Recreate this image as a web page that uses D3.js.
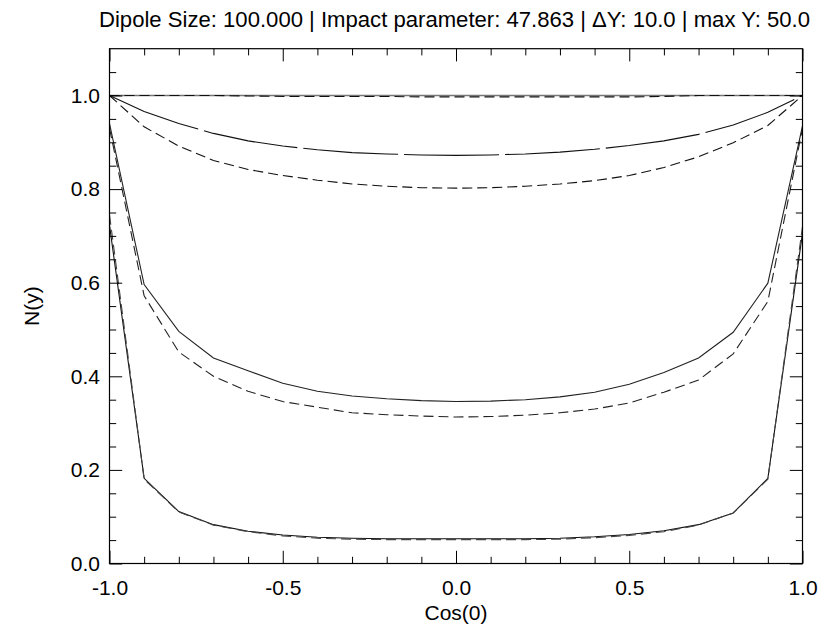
<!DOCTYPE html>
<html>
<head>
<meta charset="utf-8">
<script src="https://cdn.jsdelivr.net/npm/d3@7"></script>
<style>
  html, body { margin: 0; padding: 0; background: #fff; }
  svg text { font-family: "Liberation Sans", Arial, Helvetica, sans-serif; fill: #000; }
</style>
</head>
<body>
<svg id="chart" width="828" height="628"></svg>
<script>
// ---- data ----
const cosTheta = [-1.0, -0.9, -0.8, -0.7, -0.6, -0.5, -0.4, -0.3, -0.2, -0.1, 0.0,
                  0.1, 0.2, 0.3, 0.4, 0.5, 0.6, 0.7, 0.8, 0.9, 1.0];

const topSolid  = [1, 1, 1, 1, 1, 1, 1, 1, 1, 1, 1, 1, 1, 1, 1, 1, 1, 1, 1, 1, 1];
const topDashed = [1.000, 1.000, 1.000, 1.000, 0.999, 0.998, 0.998, 0.998, 0.998, 0.997, 0.997,
                   0.997, 0.997, 0.997, 0.997, 0.997, 0.998, 1.000, 1.000, 1.000, 1.000];

const upperLong   = [1.000, 0.966, 0.940, 0.919, 0.903, 0.892, 0.884, 0.878, 0.875, 0.873, 0.872,
                     0.873, 0.875, 0.879, 0.885, 0.893, 0.903, 0.917, 0.937, 0.964, 1.000];
const upperDashed = [1.000, 0.933, 0.892, 0.861, 0.842, 0.829, 0.819, 0.811, 0.806, 0.803, 0.802,
                     0.803, 0.806, 0.811, 0.818, 0.829, 0.846, 0.869, 0.899, 0.936, 1.000];

const midSolid  = [0.940, 0.596, 0.496, 0.439, 0.412, 0.385, 0.368, 0.358, 0.352, 0.348, 0.346,
                   0.347, 0.350, 0.356, 0.366, 0.383, 0.408, 0.439, 0.494, 0.599, 0.935];
const midDashed = [0.930, 0.572, 0.452, 0.400, 0.368, 0.346, 0.334, 0.322, 0.318, 0.315, 0.313,
                   0.314, 0.317, 0.322, 0.330, 0.343, 0.366, 0.392, 0.448, 0.560, 0.930];

const lowSolid  = [0.723, 0.182, 0.111, 0.083, 0.069, 0.061, 0.056, 0.054, 0.053, 0.053, 0.053,
                   0.053, 0.053, 0.054, 0.057, 0.062, 0.070, 0.083, 0.108, 0.182, 0.706];
const lowDashed = [0.745, 0.180, 0.110, 0.082, 0.068, 0.059, 0.054, 0.052, 0.051, 0.051, 0.051,
                   0.051, 0.051, 0.052, 0.055, 0.060, 0.068, 0.082, 0.108, 0.180, 0.720];

const xMajorTicks = [-1.0, -0.5, 0.0, 0.5, 1.0];
const xMinorTicks = [-0.9, -0.8, -0.7, -0.6, -0.4, -0.3, -0.2, -0.1, 0.1, 0.2, 0.3, 0.4, 0.6, 0.7, 0.8, 0.9];
const yMajorTicks = [0.0, 0.2, 0.4, 0.6, 0.8, 1.0];
const yMinorTicks = [0.05, 0.1, 0.15, 0.25, 0.3, 0.35, 0.45, 0.5, 0.55, 0.65, 0.7, 0.75, 0.85, 0.9, 0.95, 1.05];

const titleText = "Dipole Size: 100.000 | Impact parameter: 47.863 | \u0394Y: 10.0 | max Y: 50.0";
const xLabel = "Cos(0)";
const yLabel = "N(y)";

const seriesList = [
  { values: topSolid,    dash: null,     color: "#777", width: 1.6 },
  { values: topDashed,   dash: "10,5",   color: "#111", width: 1.1 },
  { values: upperLong,   dash: "95,6",   color: "#111", width: 1.1 },
  { values: upperDashed, dash: "10,5",   color: "#111", width: 1.1 },
  { values: midSolid,    dash: null,     color: "#222", width: 1.1 },
  { values: midDashed,   dash: "10,5",   color: "#222", width: 1.1 },
  { values: lowSolid,    dash: null,     color: "#111", width: 1.1 },
  { values: lowDashed,   dash: "10,5",   color: "#444", width: 1.1 }
];

// ---- layout ----
const svg = d3.select("#chart");
const L = 109.5, R = 802.5, T = 48.7, B = 563.5;
const x = d3.scaleLinear().domain([-1, 1]).range([L, R]);
const y = d3.scaleLinear().domain([0, 1.1]).range([B, T]);
const fs = 21;
const majLen = 12.7, minLen = 6.7;

svg.append("rect").attr("width", 828).attr("height", 628).attr("fill", "#fff");

// curves
const line = d3.line().x((d, i) => x(cosTheta[i])).y(d => y(d));
const curves = svg.append("g");
seriesList.forEach(s => {
  curves.append("path")
    .datum(s.values)
    .attr("d", line)
    .attr("fill", "none")
    .attr("stroke", s.color)
    .attr("stroke-width", s.width)
    .attr("stroke-dasharray", s.dash);
});

// axes
function styleAxis(g, showText) {
  g.select(".domain").remove();
  g.selectAll(".tick line").attr("stroke", "#000").attr("stroke-width", 1);
  if (!showText) g.selectAll(".tick text").remove();
  else g.selectAll(".tick text").attr("font-size", fs).attr("fill", "#000")
        .attr("font-family", "Liberation Sans, Arial, sans-serif");
}
const fmt = d => d.toFixed(1);

svg.append("g").attr("transform", `translate(0,${B})`)
  .call(d3.axisBottom(x).tickValues(xMajorTicks).tickSize(-majLen).tickPadding(17).tickFormat(fmt))
  .call(g => styleAxis(g, true))
  .call(g => g.selectAll(".tick text").attr("y", 17).attr("dy", "0.71em"));
svg.append("g").attr("transform", `translate(0,${B})`)
  .call(d3.axisBottom(x).tickValues(xMinorTicks).tickSize(-minLen))
  .call(g => styleAxis(g, false));
svg.append("g").attr("transform", `translate(0,${T})`)
  .call(d3.axisTop(x).tickValues(xMajorTicks).tickSize(-majLen))
  .call(g => styleAxis(g, false));
svg.append("g").attr("transform", `translate(0,${T})`)
  .call(d3.axisTop(x).tickValues(xMinorTicks).tickSize(-minLen))
  .call(g => styleAxis(g, false));

svg.append("g").attr("transform", `translate(${L},0)`)
  .call(d3.axisLeft(y).tickValues(yMajorTicks).tickSize(-majLen).tickPadding(9.5).tickFormat(fmt))
  .call(g => styleAxis(g, true));
svg.append("g").attr("transform", `translate(${L},0)`)
  .call(d3.axisLeft(y).tickValues(yMinorTicks).tickSize(-minLen))
  .call(g => styleAxis(g, false));
svg.append("g").attr("transform", `translate(${R},0)`)
  .call(d3.axisRight(y).tickValues(yMajorTicks).tickSize(-majLen))
  .call(g => styleAxis(g, false));
svg.append("g").attr("transform", `translate(${R},0)`)
  .call(d3.axisRight(y).tickValues(yMinorTicks).tickSize(-minLen))
  .call(g => styleAxis(g, false));

// frame
svg.append("rect")
  .attr("x", L).attr("y", T).attr("width", R - L).attr("height", B - T)
  .attr("fill", "none").attr("stroke", "#000").attr("stroke-width", 1.2);

// title
svg.append("text")
  .attr("x", 99).attr("y", 26.5)
  .attr("font-size", 21.5)
  .attr("textLength", 711)
  .attr("lengthAdjust", "spacingAndGlyphs")
  .text(titleText);

// axis titles
svg.append("text")
  .attr("x", (L + R) / 2).attr("y", 620)
  .attr("text-anchor", "middle")
  .attr("font-size", fs)
  .text(xLabel);
svg.append("text")
  .attr("transform", `translate(38.5,${(T + B) / 2}) rotate(-90)`)
  .attr("text-anchor", "middle")
  .attr("font-size", fs)
  .text(yLabel);
</script>
</body>
</html>
